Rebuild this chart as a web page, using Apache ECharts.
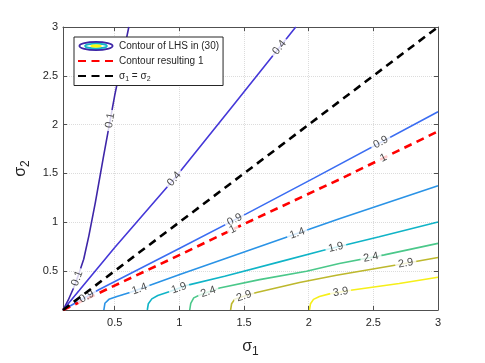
<!DOCTYPE html>
<html><head><meta charset="utf-8">
<script src="https://cdn.jsdelivr.net/npm/echarts@6/dist/echarts.min.js"></script>
<style>html,body{margin:0;padding:0;background:#fff}#c{width:485px;height:363px}</style>
</head><body><div id="c"></div>
<script>
// ---- data ----
const xTicks = [0.5, 1, 1.5, 2, 2.5, 3];
const yTicks = [0.5, 1, 1.5, 2, 2.5, 3];
const levels = [0.1, 0.4, 0.9, 1.4, 1.9, 2.4, 2.9, 3.9];

const contour01 = [[0.1,0.1],[0.14,0.2],[0.18,0.32],[0.22,0.46],[0.26,0.62],[0.3,0.86],[0.35,1.2],[0.411,1.657],[0.5,2.3],[0.609,3.0]];
const contour04 = [[0.1,0.1],[0.5,0.74],[0.964,1.45],[1.4,2.17],[1.9,3.0]];
const contour09 = [[0.1,0.1],[0.38,0.31],[1.003,0.732],[1.517,1.085],[2.044,1.454],[3.0,2.132]];
const contour14 = [[0.416,0.1],[0.424,0.169],[0.455,0.209],[0.517,0.239],[0.617,0.28],[0.81,0.371],[1.003,0.463],[1.838,0.85],[2.237,1.035],[3.0,1.374]];
const contour19 = [[0.752,0.1],[0.76,0.164],[0.787,0.214],[0.833,0.249],[0.926,0.29],[1.065,0.355],[1.35,0.446],[1.774,0.593],[2.108,0.709],[2.546,0.85],[3.0,1.002]];
const contour24 = [[1.08,0.1],[1.088,0.169],[1.111,0.224],[1.157,0.254],[1.311,0.325],[1.62,0.411],[1.983,0.497],[2.237,0.577],[2.585,0.665],[3.0,0.783]];
const contour29 = [[1.396,0.1],[1.404,0.164],[1.427,0.209],[1.504,0.244],[1.597,0.28],[1.929,0.381],[2.215,0.456],[2.677,0.562],[3.0,0.638]];
const contour39 = [[2.006,0.1],[2.014,0.164],[2.037,0.209],[2.083,0.239],[2.16,0.265],[2.338,0.305],[2.7,0.371],[3.0,0.436]];
const contourLines = [contour01, contour04, contour09, contour14, contour19, contour24, contour29, contour39];

const resulting1 = [[0.1,0.1],[1.003,0.665],[1.504,0.984],[2.237,1.438],[3.0,1.93]];
const diagonal = [[0.1,0.1],[3,3]];

const labelLevel = [0.1, 0.1, 0.4, 0.4, 0.9, 0.9, 0.9, 1, 1, 1.4, 1.4, 1.9, 1.9, 2.4, 2.4, 2.9, 2.9, 3.9];
const labelS1 = [0.231, 0.470, 0.964, 1.774, 0.295, 1.427, 2.559, 1.414, 2.585, 0.694, 1.916, 1.003, 2.212, 1.234, 2.482, 1.504, 2.752, 2.250];
const labelS2 = [0.413, 2.041, 1.438, 2.790, 0.211, 1.025, 1.816, 0.924, 1.640, 0.305, 0.867, 0.302, 0.732, 0.244, 0.638, 0.227, 0.570, 0.262];

// ---- styles ----
const levelColors = ['#3E26A8','#4538D8','#3B6DF2','#2A93E6','#10B4C7','#4BC88A','#BDB82D','#F6EF19'];
const FONT = '"Liberation Sans", Arial, Helvetica, sans-serif';
const TXT = '#262626';
const AX = '#505050';

const iconSvg = "<svg xmlns='http://www.w3.org/2000/svg' width='36' height='10' viewBox='0 0 36 10'>" +
  "<ellipse cx='18' cy='5' rx='16.6' ry='4' fill='none' stroke='#3E26A8' stroke-width='1.8'/>" +
  "<ellipse cx='18' cy='5' rx='11' ry='2.4' fill='none' stroke='#13B5C6' stroke-width='1.7'/>" +
  "<ellipse cx='18' cy='5' rx='5.5' ry='1.2' fill='#F9FB0E' stroke='#F9FB0E' stroke-width='0.8'/></svg>";
const iconUrl = 'image://data:image/svg+xml;charset=utf-8,' + encodeURIComponent(iconSvg);

const chart = echarts.init(document.getElementById('c'), null, {renderer: 'canvas'});

function axisBase(ticks) {
  return {
    type: 'value', min: 0.1, max: 3,
    axisLine: {show: true, onZero: false, lineStyle: {color: AX, width: 1}},
    axisTick: {show: true, inside: true, length: 4, customValues: ticks, lineStyle: {color: AX, width: 1}},
    axisLabel: {show: true, customValues: ticks, fontSize: 11, color: TXT, fontFamily: FONT},
    splitLine: {show: true, lineStyle: {color: '#dcdcdc', width: 1, type: 'dotted'}}
  };
}
const nameRich = {rich: {t: {fontSize: 16, color: TXT, fontFamily: FONT}, s: {fontSize: 12, color: TXT, fontFamily: FONT, padding: [10, 0, 0, 0]}}};
const x0 = axisBase(xTicks);
x0.position = 'bottom';
x0.axisLabel.margin = 7;
x0.name = '{t|σ}{s|1}';
x0.nameLocation = 'middle';
x0.nameGap = 26;
x0.nameTextStyle = nameRich;
const x1 = axisBase(xTicks);
x1.position = 'top';
x1.axisLabel = {show: false};
x1.splitLine = {show: false};
const y0 = axisBase(yTicks);
y0.position = 'left';
y0.axisLabel.margin = 5;
y0.name = '{t|σ}{s|2}';
y0.nameLocation = 'middle';
y0.nameGap = 17;
y0.nameRotate = 90;
y0.nameTextStyle = nameRich;
const y1 = axisBase(yTicks);
y1.position = 'right';
y1.axisLabel = {show: false};
y1.splitLine = {show: false};

const series = [];
contourLines.forEach((d, i) => series.push({
  id: 'c' + i, type: 'line', name: 'Contour of LHS in (30)', data: d,
  symbol: 'none', showSymbol: false, clip: true, silent: true,
  lineStyle: {color: levelColors[i], width: 1.6}, itemStyle: {color: levelColors[i]}, z: 2
}));
series.push({id: 'red', type: 'line', name: 'Contour resulting 1', data: resulting1, symbol: 'none', clip: true, silent: true,
  lineStyle: {color: '#ff0000', width: 2.6, type: [8, 5.5]}, itemStyle: {color: '#ff0000'}, z: 3});
series.push({id: 'labels', type: 'scatter', data: [], symbolSize: 1, silent: true,
  itemStyle: {color: 'rgba(0,0,0,0)'},
  label: {show: true, position: 'inside', formatter: '{b}', fontSize: 11, color: '#1a1a1a', fontFamily: FONT,
          backgroundColor: '#fff', padding: [0, 3]}, z: 4});
series.push({id: 'diag', type: 'line', name: 'σ1 = σ2', data: diagonal, symbol: 'none', clip: true, silent: true,
  lineStyle: {color: '#000', width: 2.6, type: [8, 5.5]}, itemStyle: {color: '#000'}, z: 5});

chart.setOption({
  animation: false,
  backgroundColor: '#fff',
  grid: {left: 63, top: 27, width: 375, height: 287, containLabel: false},
  xAxis: [x0, x1],
  yAxis: [y0, y1],
  legend: {
    show: true, left: 74, top: 37, orient: 'vertical', padding: [4, 4, 3, 3], itemGap: 5,
    itemWidth: 36, itemHeight: 10, backgroundColor: '#fff', borderColor: '#262626', borderWidth: 1,
    selectedMode: false, z: 10,
    textStyle: {fontSize: 10, color: TXT, fontFamily: FONT,
      rich: {t: {fontSize: 10, color: TXT, fontFamily: FONT}, s: {fontSize: 7, color: TXT, fontFamily: FONT, padding: [6, 0, 0, 0]}}},
    formatter: n => n === 'σ1 = σ2' ? '{t|σ}{s|1}{t| = σ}{s|2}' : n,
    data: [
      {name: 'Contour of LHS in (30)', icon: iconUrl},
      {name: 'Contour resulting 1', itemStyle: {opacity: 0}},
      {name: 'σ1 = σ2', itemStyle: {opacity: 0}}
    ]
  },
  series: series
});

function lineFor(level) {
  return level === 1 ? resulting1 : contourLines[levels.indexOf(level)];
}
const labelData = labelLevel.map((lv, k) => {
  const pts = lineFor(lv).map(p => chart.convertToPixel({gridIndex: 0}, p));
  const q = chart.convertToPixel({gridIndex: 0}, [labelS1[k], labelS2[k]]);
  let best = null;
  for (let i = 0; i < pts.length - 1; i++) {
    const a = pts[i], b = pts[i + 1];
    const dx = b[0] - a[0], dy = b[1] - a[1];
    let t = ((q[0] - a[0]) * dx + (q[1] - a[1]) * dy) / (dx * dx + dy * dy);
    t = Math.max(0, Math.min(1, t));
    const px = a[0] + t * dx, py = a[1] + t * dy;
    const d = (px - q[0]) ** 2 + (py - q[1]) ** 2;
    if (!best || d < best.d) best = {d, px, py, ang: Math.atan2(-dy, dx) * 180 / Math.PI};
  }
  let ang = best.ang;
  if (ang > 90) ang -= 180;
  if (ang < -90) ang += 180;
  return {name: String(lv), value: chart.convertFromPixel({gridIndex: 0}, [best.px, best.py]), label: {rotate: ang}};
});
chart.setOption({series: [{id: 'labels', data: labelData}]});
</script>
</body></html>
